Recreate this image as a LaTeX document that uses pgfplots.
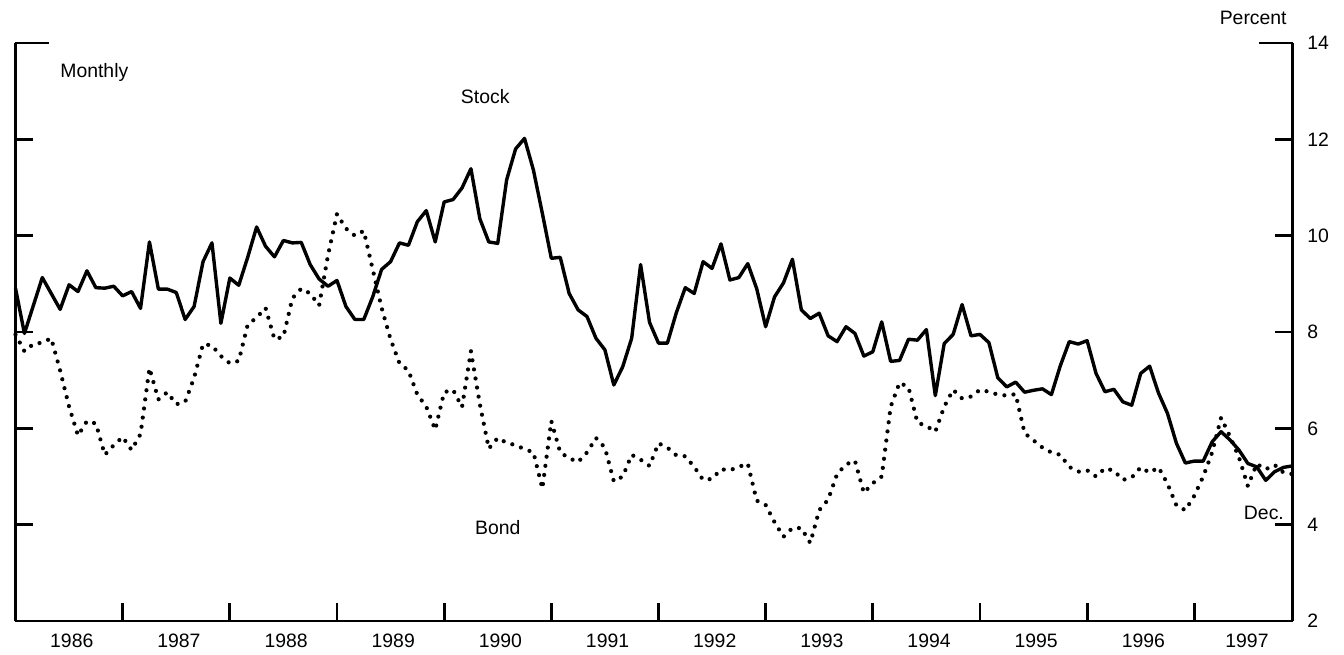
\documentclass[border=0pt]{standalone}
\usepackage{fontspec}
\setmainfont{Liberation Sans}
\usepackage{pgfplots}
\usepackage{pgfplotstable}
\pgfplotsset{compat=1.18}
\pgfplotstableread{
i stock bond
0 8.91 7.95
1 7.97 7.60
2 8.55 7.75
3 9.13 7.78
4 8.80 7.87
5 8.47 7.20
6 8.98 6.45
7 8.84 5.85
8 9.27 6.15
9 8.92 6.10
10 8.91 5.45
11 8.95 5.65
12 8.75 5.82
13 8.84 5.55
14 8.49 5.88
15 9.87 7.25
16 8.89 6.60
17 8.89 6.75
18 8.82 6.50
19 8.26 6.55
20 8.53 7.05
21 9.46 7.75
22 9.85 7.72
23 8.18 7.50
24 9.12 7.35
25 8.97 7.40
26 9.55 8.15
27 10.18 8.30
28 9.78 8.50
29 9.56 7.85
30 9.90 7.90
31 9.85 8.70
32 9.86 8.90
33 9.40 8.80
34 9.10 8.55
35 8.95 9.60
36 9.07 10.45
37 8.53 10.15
38 8.26 10.00
39 8.26 10.10
40 8.73 9.30
41 9.30 8.50
42 9.46 7.85
43 9.85 7.35
44 9.80 7.20
45 10.29 6.70
46 10.52 6.45
47 9.87 5.97
48 10.70 6.75
49 10.75 6.80
50 10.99 6.44
51 11.39 7.60
52 10.35 6.50
53 9.87 5.58
54 9.84 5.80
55 11.16 5.70
56 11.80 5.65
57 12.02 5.57
58 11.36 5.50
59 10.46 4.75
60 9.53 6.15
61 9.55 5.50
62 8.80 5.38
63 8.46 5.30
64 8.32 5.50
65 7.87 5.80
66 7.63 5.60
67 6.90 4.90
68 7.28 5.00
69 7.87 5.45
70 9.40 5.35
71 8.20 5.22
72 7.77 5.69
73 7.77 5.60
74 8.40 5.44
75 8.92 5.42
76 8.80 5.20
77 9.46 4.93
78 9.32 4.95
79 9.83 5.15
80 9.08 5.13
81 9.13 5.20
82 9.42 5.27
83 8.90 4.50
84 8.11 4.41
85 8.73 4.05
86 9.02 3.75
87 9.51 3.93
88 8.46 3.93
89 8.28 3.62
90 8.39 4.30
91 7.92 4.52
92 7.80 5.05
93 8.11 5.25
94 7.97 5.33
95 7.50 4.66
96 7.59 4.86
97 8.21 5.00
98 7.39 6.45
99 7.41 6.95
100 7.85 6.85
101 7.83 6.12
102 8.05 6.05
103 6.68 5.93
104 7.76 6.45
105 7.95 6.80
106 8.57 6.62
107 7.92 6.66
108 7.95 6.80
109 7.78 6.76
110 7.05 6.70
111 6.86 6.68
112 6.96 6.71
113 6.75 5.90
114 6.79 5.75
115 6.82 5.60
116 6.70 5.50
117 7.30 5.45
118 7.80 5.20
119 7.75 5.10
120 7.82 5.13
121 7.14 5.00
122 6.76 5.17
123 6.81 5.12
124 6.55 4.93
125 6.48 4.98
126 7.14 5.19
127 7.29 5.08
128 6.73 5.19
129 6.31 4.85
130 5.69 4.40
131 5.28 4.30
132 5.32 4.60
133 5.32 5.00
134 5.72 5.50
135 5.93 6.22
136 5.76 5.83
137 5.55 5.40
138 5.27 4.80
139 5.20 5.26
140 4.92 5.15
141 5.10 5.24
142 5.19 5.08
143 5.22 5.05
}\data
\begin{document}
\fontsize{9.7}{11.6}\selectfont
\begin{tikzpicture}
\useasboundingbox (0,0) rectangle (672pt,327pt);
\begin{axis}[
  at={(7.75pt,16.5pt)}, anchor=south west,
  scale only axis, width=638.5pt, height=289pt,
  xmin=0, xmax=143, ymin=2, ymax=14,
  axis x line=bottom, axis y line=box,
  axis line style={-, line width=1.4pt},
  xtick={12,24,...,132}, xticklabels={},
  extra x ticks={6.3,18.3,30.3,42.3,54.3,66.3,78.3,90.3,102.3,114.3,126.3,137.9},
  extra x tick labels={1986,1987,1988,1989,1990,1991,1992,1993,1994,1995,1996,1997},
  extra x tick style={tick style={draw=none}},
  ytick={2,4,...,12},
  extra y ticks={14}, extra y tick labels={14},
  extra y tick style={major tick length=17pt},
  yticklabel pos=right,
  tick align=inside, major tick length=9pt,
  tick style={line width=1.4pt, black},
  every tick label/.append style={font=\fontsize{9.7}{11}\selectfont},
  xticklabel style={yshift=-3pt},
  yticklabel style={xshift=4pt},
  /pgf/number format/assume math mode=true,
  clip=false,
]
\addplot[black, line width=1.7pt, line join=round] table[x=i,y=stock]{\data};
\addplot[black, line width=2.1pt, line cap=round, dash pattern=on 0pt off 4.6pt] table[x=i,y=bond]{\data};
\node[anchor=west, inner sep=0pt] at (axis cs:4.98,13.38) {Monthly};
\node at (axis cs:52.6,12.88) {Stock};
\node at (axis cs:54,3.93) {Bond};
\node at (axis cs:139.8,4.24) {Dec.};
\node at (axis cs:138.6,14.52) {Percent};
\end{axis}
\end{tikzpicture}
\end{document}
